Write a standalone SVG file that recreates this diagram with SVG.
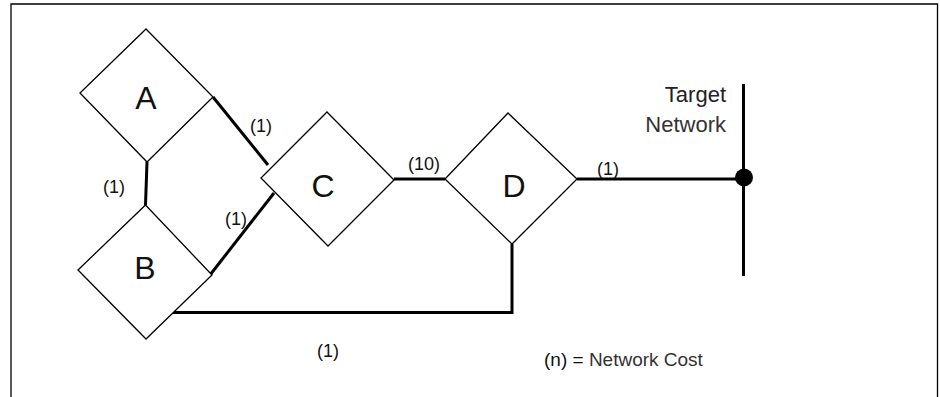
<svg xmlns="http://www.w3.org/2000/svg" width="940" height="397" viewBox="0 0 940 397">
<style>
.node{fill:#fff;stroke:#000;stroke-width:1.3}
.lbl{font-family:"Liberation Sans",Arial,sans-serif;font-size:32px;fill:#111;text-anchor:middle}
.cost{font-family:"Liberation Sans",Arial,sans-serif;font-size:18px;fill:#111;text-anchor:middle}
.legend{font-family:"Liberation Sans",Arial,sans-serif;font-size:19px;fill:#111}
.txt{font-family:"Liberation Sans",Arial,sans-serif;font-size:22px;fill:#222;text-anchor:end}
.link{fill:none;stroke:#000;stroke-width:3;stroke-linecap:butt}
</style>
<rect width="940" height="397" fill="#fff"/>
<path d="M11,397 V4 H937.5 V397" fill="none" stroke="#000" stroke-width="1.3"/>
<g id="connectors">
<line class="link" x1="213" y1="97" x2="268" y2="165"/>
<line class="link" x1="147" y1="162" x2="145.5" y2="205"/>
<line class="link" x1="210" y1="275" x2="274" y2="193"/>
<line class="link" x1="394" y1="179" x2="445" y2="179"/>
<polyline class="link" points="173,312.5 512,312.5 512,244"/>
<line class="link" x1="577" y1="179" x2="744" y2="179"/>
</g>
<g id="node-A"><polygon class="node" points="146,29 213,97 147,162 80,93"/><text class="lbl" x="146" y="109">A</text></g>
<g id="node-B"><polygon class="node" points="145.5,205 212,275 146,339 78,270"/><text class="lbl" x="145" y="279">B</text></g>
<g id="node-C"><polygon class="node" points="327,112 394,180 328,246 261,178"/><text class="lbl" x="323" y="197">C</text></g>
<g id="node-D"><polygon class="node" points="508,113 577,179 512,244 445,179"/><text class="lbl" x="514" y="197">D</text></g>
<g id="target-network">
<line class="link" x1="743.5" y1="84" x2="743.5" y2="276"/>
<circle cx="744" cy="177.5" r="9" fill="#000"/>
<text class="txt" x="726" y="102">Target</text>
<text class="txt" x="726" y="132" style="fill:#333">Network</text>
</g>
<g id="labels">
<text class="cost" x="261" y="132">(1)</text>
<text class="cost" x="114" y="193">(1)</text>
<text class="cost" x="236" y="225">(1)</text>
<text class="cost" x="424" y="170">(10)</text>
<text class="cost" x="608" y="175">(1)</text>
<text class="cost" x="328" y="357">(1)</text>
<text class="legend" x="544" y="366">(n) = <tspan fill="#333">Network Cost</tspan></text>
</g>
</svg>
